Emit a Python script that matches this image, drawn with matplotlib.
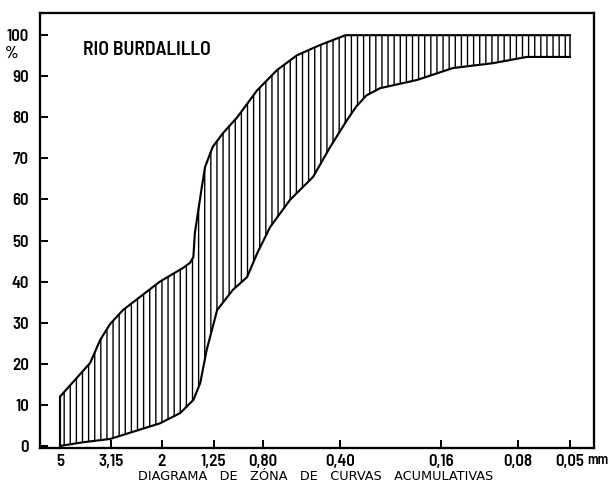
import matplotlib
matplotlib.use("Agg")
import matplotlib.pyplot as plt
import numpy as np
from matplotlib.ticker import FixedLocator, NullLocator

# ---- data ----
upper_d = [5.0, 3.81, 3.48, 3.18, 2.83, 2.03, 1.65, 1.545, 1.50, 1.48, 1.44, 1.39, 1.35, 1.26, 1.15,
           1.01, 0.843, 0.705, 0.589, 0.478, 0.41, 0.38, 0.05]
upper_p = [12.0, 20.2, 25.8, 29.7, 33.1, 40.0, 43.3, 44.6, 46.0, 51.8, 56.7, 63.0, 67.9, 72.8, 76.1,
           80.0, 86.6, 91.5, 95.1, 97.6, 99.2, 100.0, 100.0]

lower_d = [5.0, 4.06, 3.18, 2.03, 1.69, 1.50, 1.41, 1.33, 1.21, 1.05, 0.924, 0.843, 0.75, 0.627,
           0.509, 0.436, 0.375, 0.345, 0.315, 0.278, 0.199, 0.144, 0.10, 0.074, 0.05]
lower_p = [0.0, 0.9, 1.7, 5.5, 8.0, 11.2, 15.3, 23.4, 33.1, 38.0, 41.1, 46.9, 53.3, 59.9,
           65.5, 72.8, 79.3, 82.6, 85.3, 87.1, 89.1, 92.0, 93.2, 94.7, 94.7]

sieve_sizes = [5, 3.15, 2, 1.25, 0.80, 0.40, 0.16, 0.08, 0.05]
sieve_labels = ["5", "3,15", "2", "1,25", "0,80", "0,40", "0,16", "0,08", "0,05"]
y_ticks = [0, 10, 20, 30, 40, 50, 60, 70, 80, 90, 100]

title_text = "RIO BURDALILLO"
x_label = "DIAGRAMA   DE   ZÓNA   DE   CURVAS   ACUMULATIVAS"
unit_text = "mm"
pct_text = "%"

NARROW = ['Barlow Semi Condensed', 'Archivo Narrow', 'Roboto Condensed', 'DejaVu Sans']

DPI = 110
plt.rcParams['hatch.linewidth'] = 0.9
fig = plt.figure(figsize=(611 / DPI, 492 / DPI), dpi=DPI)
ax = fig.add_axes([40 / 611, 1 - 448 / 492, 554 / 611, 435 / 492])

ax.set_xscale('log')
ax.set_xlim(5.99, 0.0403)
ax.set_ylim(-0.5, 105.4)

# hatched zone between the two cumulative curves
grid = np.logspace(np.log10(5.0), np.log10(0.05), 800)
lu = np.interp(-np.log10(grid), -np.log10(upper_d), upper_p)
ll = np.interp(-np.log10(grid), -np.log10(lower_d), lower_p)
ax.fill_between(grid, ll, lu, facecolor='white', edgecolor='black', hatch='|||', linewidth=0)

lw = 1.4
ax.plot(upper_d, upper_p, color='black', lw=lw, solid_joinstyle='round', solid_capstyle='round')
ax.plot(lower_d, lower_p, color='black', lw=lw, solid_joinstyle='round', solid_capstyle='round')
ax.plot([upper_d[0], lower_d[0]], [upper_p[0], lower_p[0]], color='black', lw=lw)
ax.plot([upper_d[-1], lower_d[-1]], [upper_p[-1], lower_p[-1]], color='black', lw=1.0)

for s in ax.spines.values():
    s.set_linewidth(1.5)

ax.xaxis.set_major_locator(FixedLocator(sieve_sizes))
ax.xaxis.set_minor_locator(NullLocator())
ax.set_xticklabels(sieve_labels)
ax.set_yticks(y_ticks)
ax.set_yticklabels([str(v) for v in y_ticks])

ax.tick_params(axis='both', direction='in', length=5, width=1.3, labelsize=11)
ax.tick_params(axis='x', pad=4.2)
ax.tick_params(axis='y', pad=7.3)
for lab in ax.get_xticklabels() + ax.get_yticklabels():
    lab.set_fontfamily(NARROW)
    lab.set_fontweight(600)

fig.text(587 / 611, 1 - 460 / 492, unit_text, ha='left', va='center',
         fontsize=9.3, fontfamily=NARROW, fontweight=600)
fig.text(12 / 611, 1 - 54 / 492, pct_text, ha='center', va='center',
         fontsize=11, fontfamily=NARROW, fontweight=600)

fig.text(83 / 611, 1 - 50 / 492, title_text, ha='left', va='center',
         fontsize=12.8, fontfamily=NARROW, fontweight=600)

fig.text(316 / 611, 1 - 477 / 492, x_label, ha='center', va='center',
         fontsize=8.4, fontfamily='DejaVu Sans')

fig.savefig("out.png", dpi=DPI)
